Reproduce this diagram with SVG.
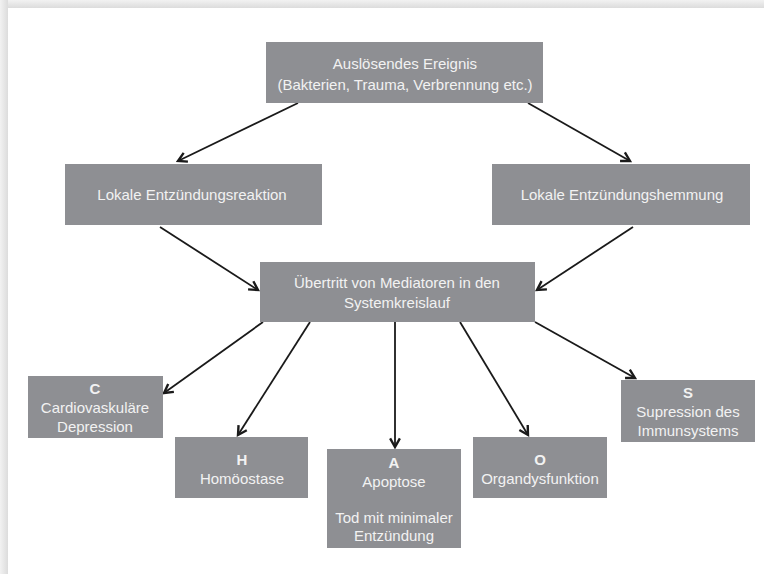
<svg xmlns="http://www.w3.org/2000/svg" width="764" height="574" viewBox="0 0 764 574">
<defs>
<style>
.box{fill:#8e8f93;}
.t{font-family:"Liberation Sans",Arial,sans-serif;font-size:15px;fill:#f2f2f2;text-anchor:middle;}
.b{font-weight:bold;}
.c{stroke:#1a1a1a;stroke-width:1.8;fill:none;marker-end:url(#ah);}
</style>
<marker id="ah" viewBox="0 0 12 12" refX="10" refY="6" markerWidth="13" markerHeight="13" markerUnits="userSpaceOnUse" orient="auto">
<path d="M2,1.5 L10,6 L2,10.5" fill="none" stroke="#1a1a1a" stroke-width="2.2"/>
</marker>
<linearGradient id="gt" x1="0" y1="0" x2="0" y2="1"><stop offset="0" stop-color="#f2f2f2"/><stop offset="1" stop-color="#dcdcdc"/></linearGradient>
<linearGradient id="gl" x1="0" y1="0" x2="1" y2="0"><stop offset="0" stop-color="#f2f2f2"/><stop offset="1" stop-color="#dcdcdc"/></linearGradient>
</defs>
<rect x="0" y="0" width="764" height="574" fill="#ffffff"/>
<rect x="0" y="0" width="764" height="8" fill="url(#gt)"/>
<rect x="0" y="0" width="8" height="574" fill="url(#gl)"/>
<g id="connectors">
<line class="c" x1="298" y1="103" x2="178" y2="161"/>
<line class="c" x1="528" y1="103" x2="630" y2="161"/>
<line class="c" x1="160" y1="227" x2="258" y2="290"/>
<line class="c" x1="633" y1="227" x2="537" y2="290"/>
<line class="c" x1="263" y1="322" x2="164" y2="393"/>
<line class="c" x1="310" y1="322" x2="238" y2="435"/>
<line class="c" x1="395" y1="322" x2="395" y2="447"/>
<line class="c" x1="460" y1="322" x2="528" y2="435"/>
<line class="c" x1="535" y1="322" x2="635" y2="378"/>
</g>
<g id="n-trigger"><rect class="box" x="266" y="42" width="277" height="61"/>
<text class="t" x="405" y="69">Auslösendes Ereignis</text>
<text class="t" x="405" y="90">(Bakterien, Trauma, Verbrennung etc.)</text></g>
<g id="n-reaktion"><rect class="box" x="65" y="164" width="257" height="61"/>
<text class="t" x="192" y="200">Lokale Entzündungsreaktion</text></g>
<g id="n-hemmung"><rect class="box" x="492" y="164" width="258" height="61"/>
<text class="t" x="622" y="200">Lokale Entzündungshemmung</text></g>
<g id="n-mediator"><rect class="box" x="260" y="262" width="275" height="60"/>
<text class="t" x="397" y="288">Übertritt von Mediatoren in den</text>
<text class="t" x="397" y="308">Systemkreislauf</text></g>
<g id="n-c"><rect class="box" x="28" y="376" width="135" height="62"/>
<text class="t b" x="95" y="394">C</text>
<text class="t" x="95" y="413">Cardiovaskuläre</text>
<text class="t" x="95" y="432">Depression</text></g>
<g id="n-h"><rect class="box" x="175" y="437" width="133" height="61"/>
<text class="t b" x="242" y="465">H</text>
<text class="t" x="242" y="484">Homöostase</text></g>
<g id="n-a"><rect class="box" x="327" y="449" width="134" height="99"/>
<text class="t b" x="394" y="468">A</text>
<text class="t" x="394" y="487">Apoptose</text>
<text class="t" x="394" y="523">Tod mit minimaler</text>
<text class="t" x="394" y="541">Entzündung</text></g>
<g id="n-o"><rect class="box" x="473" y="437" width="134" height="61"/>
<text class="t b" x="540" y="465">O</text>
<text class="t" x="540" y="484">Organdysfunktion</text></g>
<g id="n-s"><rect class="box" x="621" y="380" width="134" height="62"/>
<text class="t b" x="688" y="398">S</text>
<text class="t" x="688" y="417">Supression des</text>
<text class="t" x="688" y="436">Immunsystems</text></g>
</svg>
